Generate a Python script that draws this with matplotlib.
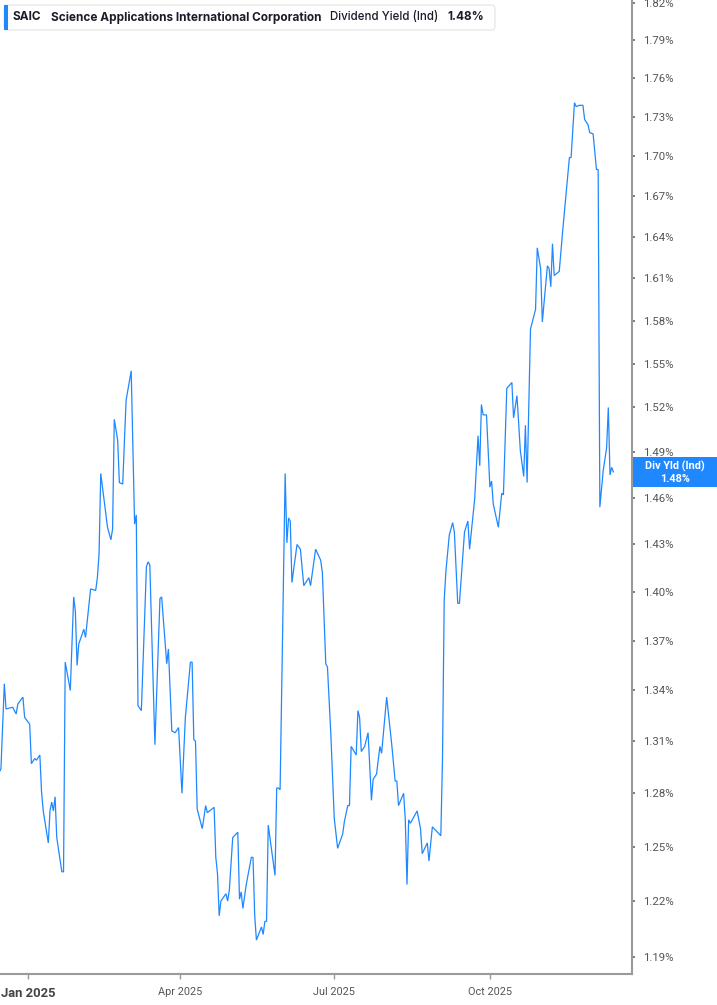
import matplotlib
matplotlib.use("Agg")
import matplotlib.pyplot as plt
import matplotlib.dates as mdates
from matplotlib.patches import FancyBboxPatch, Rectangle
from matplotlib.ticker import FixedLocator, FuncFormatter, NullLocator
import pandas as pd

# ---------------- data ----------------
dates = [
    "2024-12-15", "2024-12-16", "2024-12-18", "2024-12-19", "2024-12-23", "2024-12-25", "2024-12-26",
    "2024-12-29", "2024-12-30", "2025-01-02", "2025-01-03", "2025-01-05", "2025-01-06", "2025-01-08",
    "2025-01-09", "2025-01-10", "2025-01-13", "2025-01-14", "2025-01-15", "2025-01-16", "2025-01-17",
    "2025-01-18", "2025-01-21", "2025-01-22", "2025-01-23", "2025-01-26", "2025-01-28", "2025-01-29",
    "2025-01-30", "2025-01-31", "2025-02-03", "2025-02-04", "2025-02-07", "2025-02-10", "2025-02-11",
    "2025-02-12", "2025-02-13", "2025-02-17", "2025-02-19", "2025-02-20", "2025-02-21", "2025-02-23",
    "2025-02-24", "2025-02-26", "2025-02-27", "2025-02-28", "2025-03-03", "2025-03-05", "2025-03-06",
    "2025-03-07", "2025-03-09", "2025-03-12", "2025-03-13", "2025-03-14", "2025-03-17", "2025-03-20",
    "2025-03-21", "2025-03-24", "2025-03-25", "2025-03-27", "2025-03-29", "2025-03-31", "2025-04-02",
    "2025-04-04", "2025-04-07", "2025-04-08", "2025-04-09", "2025-04-10", "2025-04-11", "2025-04-14",
    "2025-04-16", "2025-04-17", "2025-04-21", "2025-04-22", "2025-04-23", "2025-04-24", "2025-04-25",
    "2025-04-28", "2025-04-29", "2025-04-30", "2025-05-02", "2025-05-05", "2025-05-06", "2025-05-07",
    "2025-05-08", "2025-05-10", "2025-05-13", "2025-05-14", "2025-05-15", "2025-05-16", "2025-05-19",
    "2025-05-20", "2025-05-21", "2025-05-22", "2025-05-23", "2025-05-27", "2025-05-28", "2025-05-29",
    "2025-05-30", "2025-06-02", "2025-06-03", "2025-06-04", "2025-06-05", "2025-06-06", "2025-06-09",
    "2025-06-11", "2025-06-13", "2025-06-16", "2025-06-17", "2025-06-20", "2025-06-23", "2025-06-24",
    "2025-06-26", "2025-06-27", "2025-06-29", "2025-07-01", "2025-07-03", "2025-07-06", "2025-07-07",
    "2025-07-09", "2025-07-10", "2025-07-11", "2025-07-14", "2025-07-15", "2025-07-16", "2025-07-17",
    "2025-07-19", "2025-07-21", "2025-07-23", "2025-07-24", "2025-07-26", "2025-07-28", "2025-07-29",
    "2025-08-01", "2025-08-04", "2025-08-06", "2025-08-07", "2025-08-08", "2025-08-11", "2025-08-12",
    "2025-08-13", "2025-08-14", "2025-08-15", "2025-08-19", "2025-08-21", "2025-08-22", "2025-08-25",
    "2025-08-26", "2025-08-28", "2025-09-02", "2025-09-03", "2025-09-04", "2025-09-05", "2025-09-07",
    "2025-09-09", "2025-09-10", "2025-09-12", "2025-09-13", "2025-09-16", "2025-09-18", "2025-09-19",
    "2025-09-22", "2025-09-24", "2025-09-25", "2025-09-26", "2025-09-27", "2025-09-29", "2025-10-01",
    "2025-10-02", "2025-10-03", "2025-10-06", "2025-10-08", "2025-10-09", "2025-10-11", "2025-10-14",
    "2025-10-15", "2025-10-17", "2025-10-19", "2025-10-21", "2025-10-22", "2025-10-23", "2025-10-25",
    "2025-10-28", "2025-10-29", "2025-10-31", "2025-11-01", "2025-11-04", "2025-11-05", "2025-11-06",
    "2025-11-07", "2025-11-08", "2025-11-10", "2025-11-11", "2025-11-13", "2025-11-15", "2025-11-17",
    "2025-11-18", "2025-11-20", "2025-11-21", "2025-11-23", "2025-11-25", "2025-11-26", "2025-11-28",
    "2025-11-29", "2025-12-01", "2025-12-03", "2025-12-04", "2025-12-05", "2025-12-07", "2025-12-09",
    "2025-12-10", "2025-12-11", "2025-12-12", "2025-12-13",
]

div_yield = [
    1.292, 1.294, 1.344, 1.329, 1.330, 1.326, 1.332,
    1.336, 1.324, 1.320, 1.297, 1.300, 1.299, 1.302,
    1.281, 1.270, 1.252, 1.270, 1.275, 1.270, 1.278,
    1.255, 1.236, 1.236, 1.357, 1.340, 1.397, 1.388,
    1.355, 1.368, 1.377, 1.372, 1.402, 1.401, 1.409,
    1.424, 1.476, 1.441, 1.433, 1.440, 1.512, 1.498,
    1.470, 1.469, 1.498, 1.525, 1.545, 1.443, 1.449,
    1.331, 1.328, 1.416, 1.419, 1.417, 1.308, 1.396,
    1.397, 1.356, 1.365, 1.316, 1.315, 1.318, 1.280,
    1.324, 1.357, 1.357, 1.311, 1.310, 1.271, 1.260,
    1.273, 1.269, 1.272, 1.244, 1.235, 1.212, 1.220,
    1.224, 1.220, 1.226, 1.255, 1.258, 1.221, 1.225,
    1.216, 1.229, 1.244, 1.244, 1.212, 1.199, 1.206,
    1.202, 1.209, 1.209, 1.262, 1.234, 1.283, 1.283,
    1.282, 1.476, 1.431, 1.447, 1.445, 1.406, 1.430,
    1.427, 1.404, 1.409, 1.404, 1.427, 1.420, 1.412,
    1.356, 1.354, 1.314, 1.266, 1.249, 1.257, 1.264,
    1.273, 1.273, 1.307, 1.302, 1.328, 1.324, 1.304,
    1.307, 1.315, 1.276, 1.288, 1.291, 1.307, 1.303,
    1.336, 1.308, 1.287, 1.287, 1.273, 1.280, 1.265,
    1.229, 1.265, 1.263, 1.270, 1.260, 1.246, 1.252,
    1.242, 1.261, 1.256, 1.300, 1.395, 1.413, 1.436,
    1.444, 1.438, 1.393, 1.393, 1.438, 1.445, 1.427,
    1.459, 1.501, 1.481, 1.522, 1.515, 1.515, 1.467,
    1.471, 1.456, 1.441, 1.463, 1.462, 1.533, 1.537,
    1.513, 1.528, 1.491, 1.474, 1.508, 1.470, 1.574,
    1.588, 1.632, 1.617, 1.579, 1.619, 1.617, 1.604,
    1.635, 1.612, 1.614, 1.615, 1.644, 1.671, 1.699,
    1.699, 1.741, 1.738, 1.739, 1.739, 1.728, 1.724,
    1.718, 1.717, 1.690, 1.690, 1.454, 1.478, 1.493,
    1.520, 1.475, 1.480, 1.477,
]

y_ticks = [1.19, 1.22, 1.25, 1.28, 1.31, 1.34, 1.37, 1.40, 1.43, 1.46, 1.49,
           1.52, 1.55, 1.58, 1.61, 1.64, 1.67, 1.70, 1.73, 1.76, 1.79, 1.82]
x_tick_dates = ["2025-01-01", "2025-04-01", "2025-07-01", "2025-10-01"]
x_tick_labels = ["Jan 2025", "Apr 2025", "Jul 2025", "Oct 2025"]

ticker = "SAIC"
company = "Science Applications International Corporation"
metric = "Dividend Yield (Ind)"
last_label = "1.48%"
badge_title = "Div Yld (Ind)"

# ---------------- figure ----------------
W, H = 717, 1005
fig = plt.figure(figsize=(W / 100, H / 100), dpi=100)
fig.patch.set_facecolor("white")

ax_left, ax_right, ax_top, ax_bottom = 0, 632, 0, 974
ax = fig.add_axes([ax_left / W, 1 - ax_bottom / H, (ax_right - ax_left) / W, (ax_bottom - ax_top) / H])
ax.set_facecolor("white")

line_color = "#1f88ff"
x = pd.to_datetime(dates)
ax.plot(x, div_yield, color=line_color, lw=0.9, solid_joinstyle="miter")

ax.set_yscale("log")
ax.set_ylim(1.181, 1.8225)
ax.set_xlim(pd.Timestamp("2025-01-01") - pd.Timedelta(days=16.55),
            pd.Timestamp("2025-01-01") + pd.Timedelta(days=357.0))

ax.yaxis.set_major_locator(FixedLocator(y_ticks))
ax.yaxis.set_minor_locator(NullLocator())
ax.yaxis.set_major_formatter(FuncFormatter(lambda v, p: f"{v:.2f}%"))
ax.yaxis.tick_right()

ax.set_xticks(pd.to_datetime(x_tick_dates))
ax.set_xticklabels(x_tick_labels)
ax.xaxis.set_minor_locator(NullLocator())

spine_color = "#9a9a9a"
for s in ["top", "left"]:
    ax.spines[s].set_visible(False)
for s in ["right", "bottom"]:
    ax.spines[s].set_color(spine_color)
    ax.spines[s].set_linewidth(1.5)

tick_font = ["Roboto", "DejaVu Sans"]
ax.tick_params(axis="y", which="major", direction="out", length=2.5, width=1.2,
               color="#666666", pad=5.5, labelsize=8.2, labelcolor="#555555")
ax.tick_params(axis="x", which="major", direction="out", length=3.5, width=1.0,
               color=spine_color, pad=6, labelsize=7.8, labelcolor="#555555")
for lab in ax.get_yticklabels():
    lab.set_fontfamily(tick_font)
for i, lab in enumerate(ax.get_xticklabels()):
    lab.set_fontfamily(tick_font)
    if i == 0:
        lab.set_fontweight("bold")
        lab.set_fontsize(9.4)
        lab.set_color("#444444")
ax.grid(False)

# ---------------- header box ----------------
def fx(px):
    return px / W

def fy(py):
    return 1 - py / H

title_font = ["Inter", "DejaVu Sans"]
box = FancyBboxPatch((fx(4), fy(30)), fx(495) - fx(4), fy(5) - fy(30),
                     boxstyle="round,pad=0,rounding_size=0.004",
                     transform=fig.transFigure, facecolor="white",
                     edgecolor="#e4e4e4", linewidth=0.8, zorder=5)
fig.add_artist(box)
fig.add_artist(Rectangle((fx(4), fy(30)), fx(7.5) - fx(4), fy(5) - fy(30),
                         transform=fig.transFigure, facecolor=line_color,
                         edgecolor="none", zorder=6))
ty = fy(17.5)
txt_col = "#1b1b2a"
fig.text(fx(12.5), ty, ticker, fontsize=8.5, fontweight="bold", color=txt_col,
         va="center", ha="left", family=title_font, zorder=7)
fig.text(fx(51), ty, company, fontsize=8.5, fontweight="bold", color=txt_col,
         va="center", ha="left", family=title_font, zorder=7)
fig.text(fx(330), ty, metric, fontsize=8.3, fontweight="medium", color=txt_col,
         va="center", ha="left", family=title_font, zorder=7)
fig.text(fx(447), ty, last_label, fontsize=8.5, fontweight="bold", color=txt_col,
         va="center", ha="left", family=title_font, zorder=7)

# ---------------- last value badge ----------------
fig.add_artist(Rectangle((fx(633), fy(487)), fx(717) - fx(633), fy(457) - fy(487),
                         transform=fig.transFigure, facecolor=line_color,
                         edgecolor="none", zorder=6))
fig.text(fx(675), fy(466), badge_title, fontsize=7.8, fontweight="bold", color="white",
         va="center", ha="center", family=tick_font, zorder=7)
fig.text(fx(675), fy(478.5), last_label, fontsize=7.8, fontweight="bold", color="white",
         va="center", ha="center", family=tick_font, zorder=7)

fig.savefig("out.png", dpi=100, facecolor="white")
